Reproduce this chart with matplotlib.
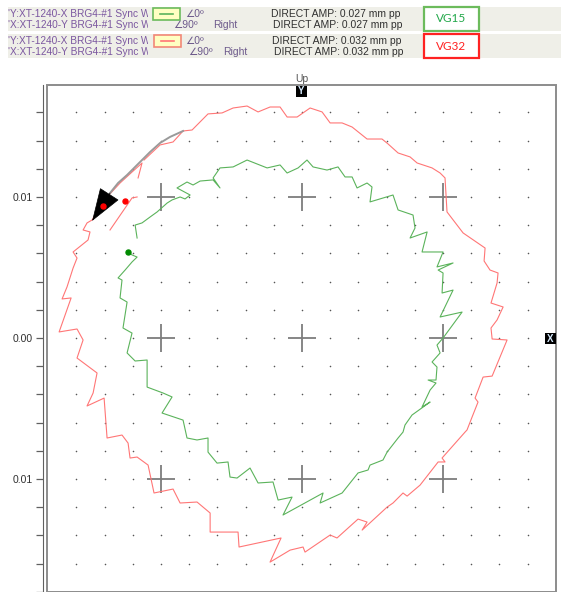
import numpy as np
import matplotlib.pyplot as plt
from matplotlib.patches import Rectangle
from matplotlib.transforms import Bbox

plt.rcParams['font.family'] = ['Liberation Sans', 'DejaVu Sans']

W, H = 561, 592

# orbit samples in micrometres (x to the right, y up)
red_x = [-11.63, -11.35, -12.06, -12.91, -13.76, -14.33, -14.89, -15.25, -15.53, -15.04,
         -15.18, -16.24, -15.96, -16.24, -16.67, -17.02, -16.38, -17.23, -15.96, -15.53,
         -15.96, -14.54, -14.82, -15.25, -14.04, -13.83, -12.77, -12.34, -12.20, -11.70,
         -10.92, -10.50, -9.15, -8.65, -7.45, -6.52, -6.52, -4.54, -4.47, -1.49,
         -2.27, -0.85, 0.07, 0.21, 1.99, 2.48, 3.97, 4.61, 4.26, 6.03,
         6.45, 7.16, 7.45, 8.37, 9.65, 10.14, 9.93, 11.56, 11.70, 12.06,
         12.48, 12.27, 12.84, 13.48, 14.54, 13.48, 13.40, 13.83, 14.26, 13.40,
         13.83, 13.90, 13.33, 12.91, 12.98, 11.42, 10.28, 10.14, 9.79, 9.22,
         8.16, 7.66, 6.81, 6.10, 5.67, 4.61, 3.55, 2.84, 1.99, 1.42,
         0.57, -0.35, -1.06, -1.56, -2.27, -3.12, -3.90, -4.89, -5.67, -6.67,
         -7.80, -8.44, -9.15, -10.07, -11.21]
red_y = [11.35, 12.41, 11.77, 10.99, 10.07, 9.29, 8.37, 8.16, 7.66, 7.52,
         6.95, 6.10, 5.67, 4.96, 3.62, 2.77, 2.84, 0.43, 0.64, -0.14,
         -1.42, -2.48, -3.90, -4.82, -4.26, -7.09, -6.88, -7.45, -8.51, -8.44,
         -9.01, -10.99, -10.71, -11.70, -11.63, -12.41, -13.76, -13.76, -14.82, -14.18,
         -15.89, -15.04, -14.82, -15.18, -13.97, -14.18, -12.84, -13.05, -13.62, -11.99,
         -11.70, -10.99, -11.21, -10.43, -8.79, -8.79, -8.51, -6.67, -6.52, -5.60,
         -4.54, -4.26, -2.77, -2.70, -0.14, -0.07, 0.71, 1.28, 2.20, 2.48,
         3.90, 4.61, 4.82, 5.46, 6.38, 7.45, 8.94, 11.35, 11.70, 12.06,
         12.41, 12.84, 13.12, 13.76, 14.11, 14.11, 14.96, 15.25, 15.25, 16.03,
         16.31, 15.67, 15.67, 16.38, 16.38, 16.03, 16.45, 16.31, 15.96, 15.89,
         14.75, 14.68, 13.90, 13.69, 12.62]
red_tail_x = [-11.70, -12.06, -13.62]
red_tail_y = [10.00, 9.93, 7.66]
red_keyphasor_x = [-12.55, -14.11]
red_keyphasor_y = [9.72, 9.36]

green_x = [-12.34, -12.06, -11.70, -12.06, -12.55, -13.05, -12.77, -12.91, -12.41, -12.70,
           -12.06, -12.41, -11.84, -10.99, -10.99, -9.86, -9.22, -9.93, -8.44, -8.16,
           -7.45, -6.67, -6.67, -6.03, -5.25, -5.11, -4.61, -3.69, -3.12, -2.06,
           -1.70, -0.71, -1.35, 1.49, 1.28, 2.84, 3.97, 4.68, 4.82, 5.74,
           6.03, 6.81, 7.16, 7.30, 7.80, 9.08, 8.51, 9.08, 9.50, 8.94,
           9.50, 9.57, 9.22, 9.79, 9.57, 10.00, 11.35, 9.79, 10.71, 9.93,
           10.00, 9.65, 10.71, 9.57, 10.00, 8.51, 8.87, 7.66, 8.01, 7.87,
           6.81, 6.45, 4.82, 4.96, 4.61, 3.90, 3.55, 3.05, 2.55, 1.77,
           0.78, 0.35, -0.28, -1.06, -1.56, -2.48, -3.90, -4.89, -5.82, -6.31,
           -5.82, -6.31, -7.23, -7.73, -8.16, -8.87, -7.94, -8.30, -8.65, -9.22,
           -9.57, -10.28, -10.78, -11.35, -11.84, -11.70]
green_y = [6.10, 5.89, 5.74, 5.39, 4.82, 4.26, 4.11, 2.84, 2.55, 0.71,
           0.35, -1.06, -1.63, -1.56, -3.48, -3.90, -4.18, -5.32, -5.82, -7.09,
           -7.23, -7.09, -8.09, -8.87, -8.79, -9.86, -9.93, -9.22, -10.28, -10.21,
           -11.49, -11.28, -12.55, -10.99, -11.70, -10.99, -9.57, -9.36, -9.01, -8.65,
           -8.09, -7.09, -6.67, -6.17, -5.46, -4.54, -4.89, -3.69, -3.19, -2.98,
           -2.98, -2.06, -1.70, -1.06, -0.50, 0.00, 1.84, 1.49, 3.40, 3.19,
           4.61, 4.82, 5.32, 5.04, 6.10, 6.10, 7.52, 7.09, 7.80, 8.72,
           9.08, 10.14, 9.65, 10.71, 10.99, 10.64, 11.42, 11.42, 12.13, 11.91,
           12.13, 12.62, 12.06, 11.70, 12.27, 12.06, 12.62, 12.13, 12.06, 11.35,
           10.64, 11.21, 11.13, 10.85, 11.06, 10.64, 10.14, 9.86, 10.00, 9.79,
           9.57, 8.94, 8.58, 8.16, 8.01, 7.09]
green_keyphasor_x = [-12.34]
green_keyphasor_y = [6.10]

# rotation direction arc, ends in the arrow tip
arc_x = [-8.44, -9.36, -10.07, -10.78, -11.49, -12.06, -12.41, -13.05, -13.62]
arc_y = [14.68, 14.26, 13.83, 13.19, 12.48, 11.91, 11.56, 10.99, 10.28]
arc_tip = (-14.89, 8.30)

cross_pos = [-10, 0, 10]
y_ticks = np.arange(-18, 17, 2)
y_labels = {-10: '0.01', 0: '0.00', 10: '0.01'}

probe_lines = ["'Y:XT-1240-X BRG4-#1 Sync W", "'X:XT-1240-Y BRG4-#1 Sync W"]
plot_names = ['VG15', 'VG32']
direct_amp = [0.027, 0.032]
line_colors = ['#5bb35b', '#ff7676']
box_colors = ['#6cbb5c', '#ff2222']
name_colors = ['#22a84a', '#ff2222']

fig = plt.figure(figsize=(W / 100, H / 100), dpi=100)


def fx(px):
    return px / W


def fy(py):
    return 1 - py / H


# header panels
purple = '#7b57a0'
for i in range(2):
    top = 7 + 27 * i
    fig.add_artist(Rectangle((fx(8), fy(top + 24)), (W - 8) / W, 24 / H,
                             transform=fig.transFigure, fc='#efefe8', ec='none'))
    clip = Bbox([[0, fy(top + 24) * H], [148, fy(top) * H]])
    for j, name in enumerate(probe_lines):
        t = fig.text(fx(8), fy(top + 7 + 11 * j), name, ha='left', va='center',
                     fontsize=7.3, color=purple)
        t.set_clip_box(clip)
    # legend swatch
    sx = 153 + i
    fig.add_artist(Rectangle((fx(sx), fy(top + 13)), 27 / W, 12 / H,
                             transform=fig.transFigure, fc='#ffffc2',
                             ec=box_colors[i] if i == 0 else '#f28878', lw=1.2))
    fig.add_artist(plt.Line2D([fx(sx + 7), fx(sx + 20)], [fy(top + 7), fy(top + 7)],
                              transform=fig.transFigure, color=line_colors[i], lw=1.2))
    fig.text(fx(185), fy(top + 7), '\u22200\u00ba', ha='left', va='center',
             fontsize=7.5, color='#6d5a8c')
    fig.text(fx(173 + 15 * i), fy(top + 18), '\u222090\u00ba', ha='left', va='center',
             fontsize=7.5, color='#6d5a8c')
    fig.text(fx(213 + 10 * i), fy(top + 18), 'Right', ha='left', va='center',
             fontsize=7.5, color='#6d5a8c')
    for j in range(2):
        fig.text(fx(336 + i + 2 * j), fy(top + 7 + 11 * j),
                 f'DIRECT AMP: {direct_amp[i]:.3f} mm pp',
                 ha='center', va='center', fontsize=7.5, color='#303030')
    fig.add_artist(Rectangle((fx(424), fy(top + 24)), 55 / W, 24 / H,
                             transform=fig.transFigure, fc='white',
                             ec=box_colors[i], lw=1.6))
    fig.text(fx(451.5), fy(top + 12), plot_names[i], ha='center', va='center',
             fontsize=8.5, color=name_colors[i], family='Lato')

# orbit axes
ax = fig.add_axes([47 / W, 0, (556 - 47) / W, (592 - 85) / H])
ax.set_xlim(-18.09, 18.01)
ax.set_ylim(-18.01, 17.94)
ax.set_facecolor('white')

gx, gy = np.meshgrid(np.arange(-16, 17, 2), np.arange(-18, 17, 2))
ax.scatter(gx.ravel(), gy.ravel(), s=1.3, color='#555555', lw=0, zorder=1)
cx, cy = np.meshgrid(cross_pos, cross_pos)
ax.plot(cx.ravel(), cy.ravel(), ls='none', marker='+', ms=19.5, mew=1.3,
        color='#7d7d7d', zorder=2)

ax.plot(green_x, green_y, color=line_colors[0], lw=0.8, zorder=3)
ax.plot(red_x, red_y, color=line_colors[1], lw=0.8, zorder=3)
ax.plot(red_tail_x, red_tail_y, color=line_colors[1], lw=0.8, zorder=3)
ax.plot(arc_x, arc_y, color='#9a9a9a', lw=1.4, zorder=4)
ax.annotate('', xy=arc_tip, xytext=(arc_x[-1], arc_y[-1]),
            arrowprops=dict(arrowstyle='-|>,head_length=2.2,head_width=0.75',
                            mutation_scale=10, fc='black', ec='black', lw=0.5,
                            shrinkA=0, shrinkB=0), zorder=5)
ax.plot(red_keyphasor_x, red_keyphasor_y, ls='none', marker='o', ms=3.6,
        color='#ff0000', zorder=6)
ax.plot(green_keyphasor_x, green_keyphasor_y, ls='none', marker='o', ms=3.6,
        color='#008a00', zorder=6)

for side in ['top', 'right', 'bottom']:
    ax.spines[side].set_visible(False)
ax.spines['left'].set_position(('outward', 3))
ax.spines['left'].set_color('#606060')
ax.add_patch(Rectangle((0, 0), 1, 1, transform=ax.transAxes, fill=False,
                       ec='#8c8c8c', lw=1.4, clip_on=False, zorder=7))
ax.set_xticks([])
ax.set_yticks(y_ticks)
ax.set_yticklabels([y_labels.get(v, '') for v in y_ticks])
ax.tick_params(axis='y', length=5, width=0.9, color='#606060', pad=2,
               labelsize=7.5, labelcolor='#303030')

fig.text(fx(302), fy(79), 'Up', ha='center', va='center', fontsize=7.5, color='#555555')
for (bx, by, lab) in [(296, 86, 'Y'), (545, 333, 'X')]:
    fig.add_artist(Rectangle((fx(bx), fy(by + 11)), 11 / W, 11 / H,
                             transform=fig.transFigure, fc='black', ec='none', zorder=8))
    fig.text(fx(bx + 5.5), fy(by + 5.5), lab, ha='center', va='center', fontsize=7,
             fontweight='bold', color='#d8ecff', zorder=9)

fig.savefig('out.png', dpi=100)
